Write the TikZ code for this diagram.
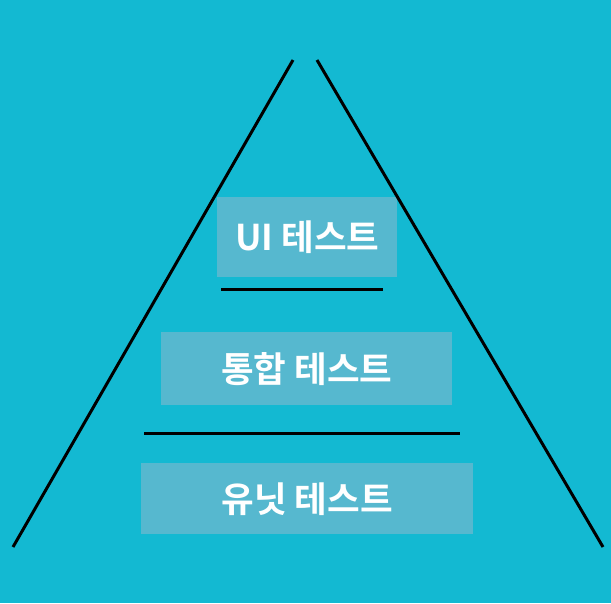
\documentclass[tikz,border=0pt]{standalone}
\usepackage{fontspec}
\newfontfamily\kr{Noto Sans CJK KR}[BoldFont={Noto Sans CJK KR Bold}]
\definecolor{bg}{HTML}{13B9D2}
\definecolor{boxc}{HTML}{56B8CF}
\begin{document}
\begin{tikzpicture}[x=1pt,y=-1pt,
  layer/.style={fill=boxc,draw=none,inner sep=0pt,text=white,font=\kr\bfseries\fontsize{35.5}{38}\selectfont,anchor=north west},
  edge/.style={line width=3pt,black}]
\fill[bg] (0,0) rectangle (611,603);
\useasboundingbox (0,0) rectangle (611,603);
\node[layer,minimum width=180pt,minimum height=80pt] (ui) at (217,197) {UI 테스트};
\node[layer,minimum width=291pt,minimum height=73pt] (it) at (161,332) {통합 테스트};
\node[layer,minimum width=332pt,minimum height=71pt] (ut) at (141,463) {유닛 테스트};
\coordinate (l1a) at (221,289); \coordinate (l1b) at (383,289);
\coordinate (l2a) at (144,433); \coordinate (l2b) at (460,433);
\coordinate (lt) at (293,60); \coordinate (lb) at (13,547);
\coordinate (rt) at (317,60); \coordinate (rb) at (603,547);
\draw[edge] (l1a) -- (l1b);
\draw[edge] (l2a) -- (l2b);
\draw[edge] (lt) -- (lb);
\draw[edge] (rt) -- (rb);
\end{tikzpicture}
\end{document}
